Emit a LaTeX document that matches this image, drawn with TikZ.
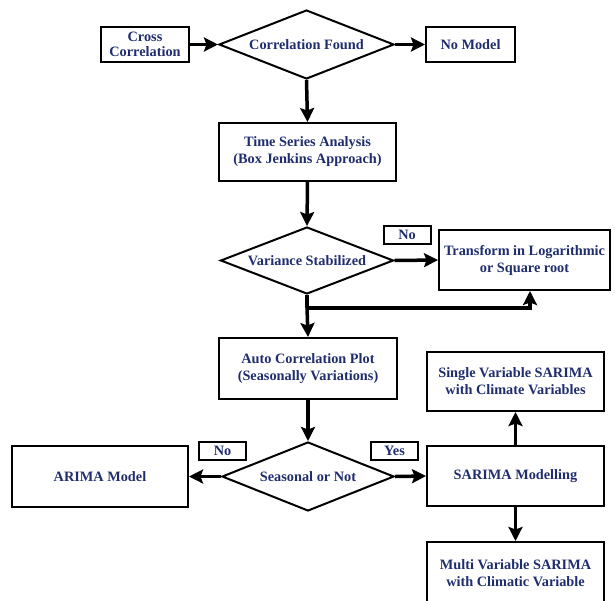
\documentclass[tikz,border=0pt]{standalone}
\usepackage{fontspec}
\setmainfont{Liberation Serif}
\usetikzlibrary{shapes.geometric,arrows.meta}
\definecolor{navy}{RGB}{31,45,110}
\begin{document}
\begin{tikzpicture}[x=1pt,y=-1pt,
  every node/.style={font=\fontsize{14.3}{17}\selectfont\bfseries, text=navy},
  box/.style={draw=black, line width=2pt, rectangle, inner sep=0pt, align=center},
  choice/.style={draw=black, line width=2pt, diamond, inner sep=0pt, aspect=2.5},
  tag/.style={draw=black, line width=2pt, rectangle, inner sep=0pt,
              minimum width=47pt, minimum height=18pt},
  flow/.style={line width=3.5pt, -{Stealth[length=14pt,width=14pt,inset=2.5pt]}},
  plain/.style={line width=3.5pt}
]
\useasboundingbox (0,0) rectangle (615,600);

% top row
\node[box, minimum width=88pt, minimum height=35pt] (cc) at (145,44.5) {Cross\\[-2pt]Correlation};
\node[choice, minimum width=175pt, minimum height=69pt] (cf) at (306.5,44.5) {Correlation Found};
\node[box, minimum width=89pt, minimum height=35pt] (nm) at (470.5,44.5) {No Model};

% central column
\node[box, minimum width=177pt, minimum height=58pt] (ts) at (307.5,152) {Time Series Analysis\\(Box Jenkins Approach)};
\node[choice, minimum width=173pt, minimum height=67pt] (vs) at (307,260.5) {Variance Stabilized};
\node[tag] (no1) at (407,235) {No};
\node[box, minimum width=171pt, minimum height=60pt] (tr) at (524.5,260) {Transform in Logarithmic\\or Square root};
\coordinate (jn) at (307,308);
\node[box, minimum width=178pt, minimum height=61pt] (ac) at (308,368.5) {Auto Correlation Plot\\(Seasonally Variations)};
\node[choice, minimum width=172pt, minimum height=69pt] (so) at (308,476.5) {Seasonal or Not};
\node[tag] (no2) at (222.5,451) {No};
\node[tag] (yes) at (394.5,451) {Yes};

% outcomes
\node[box, minimum width=176pt, minimum height=61pt] (ar) at (100,476.5) {ARIMA Model};
\node[box, minimum width=177pt, minimum height=60pt] (sm) at (515.5,476) {SARIMA Modelling};
\node[box, minimum width=177pt, minimum height=59pt] (sv) at (515.5,381.5) {Single Variable SARIMA\\with Climate Variables};
\node[box, minimum width=177pt, minimum height=62pt] (mv) at (515.5,573) {Multi Variable SARIMA\\with Climatic Variable};

% connectors
\draw[flow] (cc) -- (cf.west);
\draw[flow] (cf.east) -- (nm);
\draw[flow] (cf.south) -- (ts.north);
\draw[flow] (ts.south) -- (vs.north);
\draw[flow] (vs.east) -- (tr.west);
\draw[plain] (vs.south) -- (jn);
\draw[flow] (jn) -| ([xshift=5.5pt]tr.south);
\draw[flow] (jn) -- (ac.north);
\draw[flow] (ac.south) -- (so.north);
\draw[flow] (so.west) -- (ar.east);
\draw[flow] (so.east) -- (sm.west);
\draw[flow] (sm.north) -- (sv.south);
\draw[flow] (sm.south) -- (mv.north);
\end{tikzpicture}
\end{document}
